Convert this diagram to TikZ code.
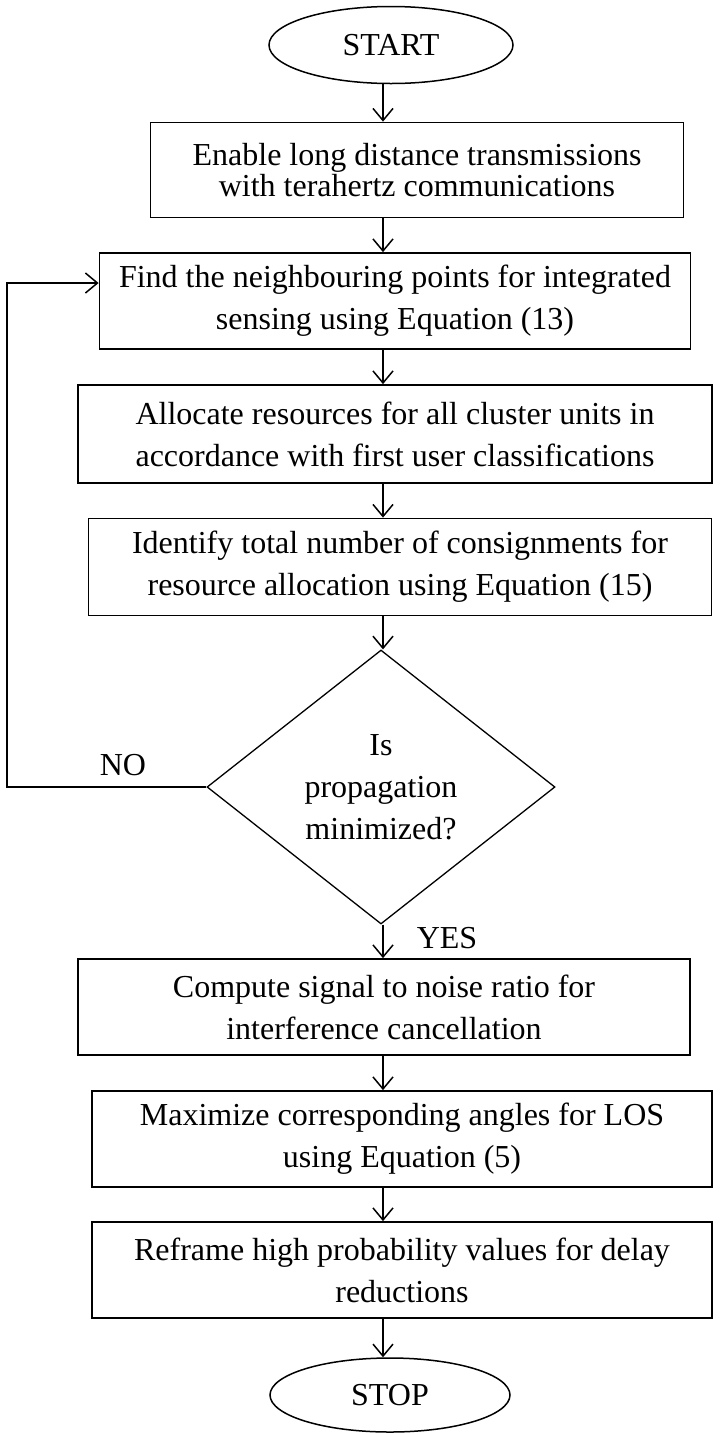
\documentclass[tikz,border=0pt]{standalone}
\usepackage{fontspec}
\setmainfont{Liberation Serif}
\usepackage{tikz}
\usetikzlibrary{shapes.geometric,arrows.meta}

\begin{document}
\begin{tikzpicture}[x=1pt,y=-1pt,
  every node/.style={font=\fontsize{32}{42}\selectfont, align=center},
  terminal/.style={draw, ellipse, line width=1.5pt, inner sep=0pt},
  process/.style={draw, line width=1.8pt, inner sep=0pt},
  decision/.style={draw, diamond, line width=1.3pt, inner sep=0pt, aspect=1.27, minimum width=348pt, minimum height=274pt},
  flow/.style={-{Straight Barb[length=12pt,width=20pt]}, line width=1.5pt}]
\useasboundingbox (0,0) rectangle (726,1433);

% start / stop terminals
\node[terminal, minimum width=244pt, minimum height=77pt] (start) at (391,45) {START};
\node[terminal, minimum width=240pt, minimum height=74pt] (stop) at (390,1395) {STOP};

% steps before the check
\node[process, minimum width=533pt, minimum height=95pt, font=\fontsize{32}{31}\selectfont] (enable) at (417,170) {Enable long distance transmissions\\with terahertz communications};
\node[process, minimum width=591pt, minimum height=96pt] (find) at (395,301) {Find the neighbouring points for integrated\\sensing using Equation (13)};
\node[process, minimum width=634pt, minimum height=98pt] (allocate) at (395,434) {Allocate resources for all cluster units in\\accordance with first user classifications};
\node[process, minimum width=623pt, minimum height=97pt] (identify) at (400,567) {Identify total number of consignments for\\resource allocation using Equation (15)};

% the check
\node[decision] (check) at (381,787) {Is\\propagation\\minimized?};

% steps after the check
\node[process, minimum width=612pt, minimum height=96pt] (snr) at (384,1007) {Compute signal to noise ratio for\\interference cancellation};
\node[process, minimum width=620pt, minimum height=96pt] (angles) at (402,1139) {Maximize corresponding angles for LOS\\using Equation (5)};
\node[process, minimum width=620pt, minimum height=96pt] (reframe) at (402,1270) {Reframe high probability values for delay\\reductions};

% labels
\node (nolabel) at (123,765) {NO};
\node (yeslabel) at (447,938) {YES};

% connectors
\coordinate (col) at (383,0);
\coordinate (loopback) at (7,787);
\draw[flow] (col |- start.south) -- (col |- enable.north);
\draw[flow] (col |- enable.south) -- (col |- find.north);
\draw[flow] (col |- find.south) -- (col |- allocate.north);
\draw[flow] (col |- allocate.south) -- (col |- identify.north);
\draw[flow] (col |- identify.south) -- (col |- check.north);
\draw[flow] (col |- check.south) -- (col |- snr.north);
\draw[flow] (col |- snr.south) -- (col |- angles.north);
\draw[flow] (col |- angles.south) -- (col |- reframe.north);
\draw[flow] (col |- reframe.south) -- (col |- stop.north);
\draw[flow] (check.west) -- (loopback) |- ([yshift=18pt]find.west);
\end{tikzpicture}
\end{document}
